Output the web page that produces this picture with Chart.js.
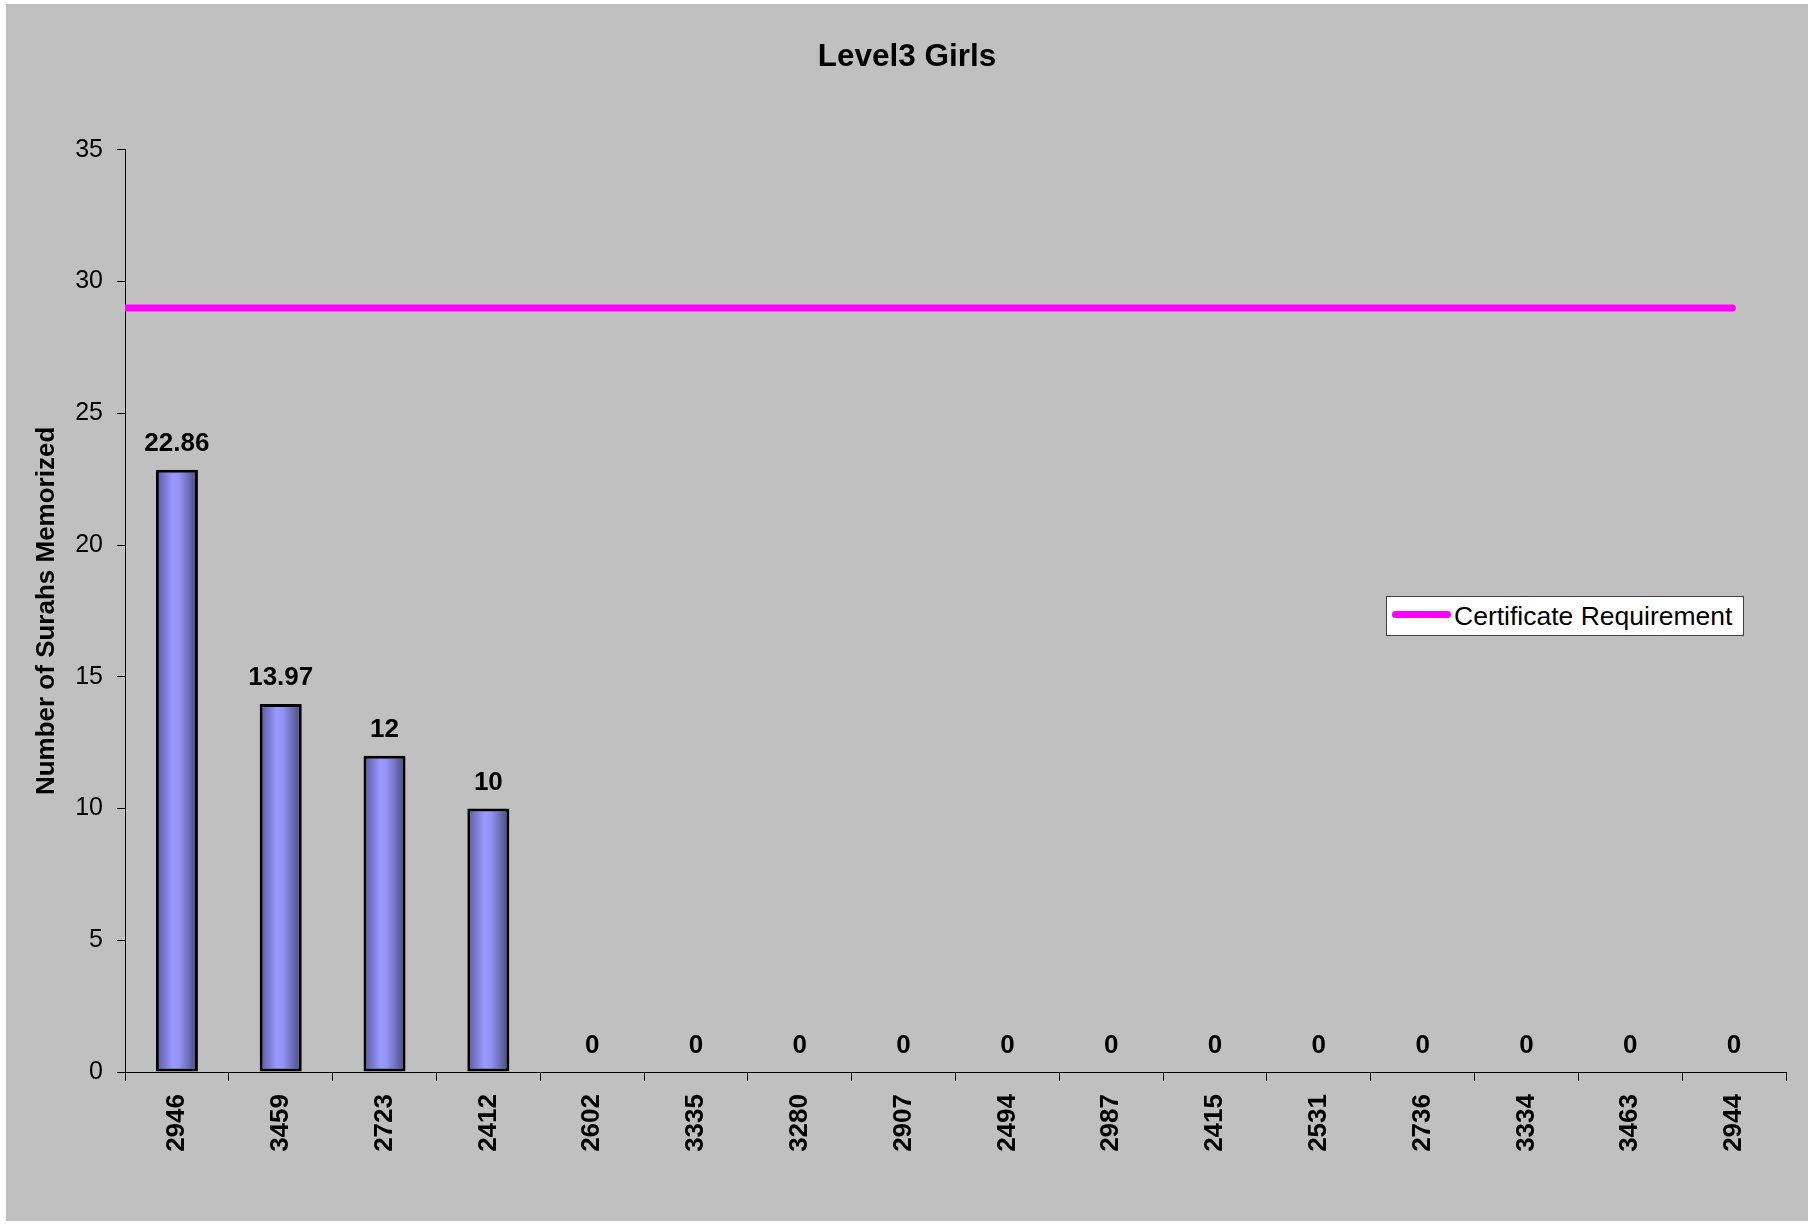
<!DOCTYPE html>
<html>
<head>
<meta charset="utf-8">
<script src="https://cdn.jsdelivr.net/npm/chart.js@4/dist/chart.umd.min.js"></script>
<style>
  body { margin: 0; background: #fff; width: 1815px; height: 1225px; position: relative; overflow: hidden; }
  #panel { position: absolute; left: 6px; top: 4px; width: 1802px; height: 1217px; background: #c0c0c0; }
  #wrap { position: absolute; left: 0; top: 0; width: 1784px; height: 1217px; }
  #legend {
    position: absolute; left: 1386px; top: 596px; width: 356px; height: 38px;
    background: #fff; border: 1px solid #404040;
    display: flex; align-items: center;
    font-family: "Liberation Sans", Arial, sans-serif; font-size: 26.5px; color: #000;
  }
  #legend .swatch { width: 59px; height: 7px; border-radius: 3.5px; margin-left: 5px; margin-right: 3px; position: relative; top: -2px; }
</style>
</head>
<body>
<div id="panel">
  <div id="wrap"><canvas id="chart"></canvas></div>
</div>
<div id="legend"></div>
<script>
// student ids along the x axis
const students = ['2946', '3459', '2723', '2412', '2602', '3335', '3280', '2907',
                  '2494', '2987', '2415', '2531', '2736', '3334', '3463', '2944'];

// surahs memorized per student
const memorized = [22.86, 13.97, 12, 10, 0, 0, 0, 0, 0, 0, 0, 0, 0, 0, 0, 0];

// certificate requirement line
const requirement = [29, 29, 29, 29, 29, 29, 29, 29, 29, 29, 29, 29, 29, 29, 29, 29];

const yTicks = [0, 5, 10, 15, 20, 25, 30, 35];

const FONT = '"Liberation Sans", Arial, sans-serif';
const BAR_PCT = 0.405;

// horizontal shaded fill for every bar, like the old Excel gradient
function barFill(c) {
  const chart = c.chart;
  const xs = chart.scales.x;
  if (!xs || !chart.chartArea) return '#9999ff';
  const cx = xs.getPixelForValue(c.dataIndex);
  const w = (xs.width / students.length) * BAR_PCT;
  const g = chart.ctx.createLinearGradient(cx - w / 2, 0, cx + w / 2, 0);
  g.addColorStop(0, '#5656a0');
  g.addColorStop(0.4, '#9999ff');
  g.addColorStop(0.55, '#9494f6');
  g.addColorStop(1, '#46467c');
  return g;
}

// value labels above the bars
const valueLabels = {
  id: 'valueLabels',
  afterDatasetsDraw(chart) {
    const ctx = chart.ctx;
    const meta = chart.getDatasetMeta(0);
    ctx.save();
    ctx.font = 'bold 26px ' + FONT;
    ctx.fillStyle = '#000';
    ctx.textAlign = 'center';
    ctx.textBaseline = 'middle';
    meta.data.forEach((bar, i) => {
      ctx.fillText(String(memorized[i]), bar.x, bar.y - 26);
    });
    ctx.restore();
  }
};

const chart = new Chart(document.getElementById('chart'), {
  type: 'bar',
  data: {
    labels: students,
    datasets: [{
      label: 'Surahs Memorized',
      data: memorized,
      backgroundColor: barFill,
      borderColor: '#000',
      borderWidth: 3,
      borderSkipped: false,
      grouped: false,
      barPercentage: BAR_PCT,
      categoryPercentage: 1
    }, {
      type: 'line',
      label: 'Certificate Requirement',
      xAxisID: 'xr',
      data: requirement.map((v, i) => ({ x: i, y: v })),
      borderColor: '#ff00ff',
      backgroundColor: '#ff00ff',
      borderWidth: 7,
      borderCapStyle: 'round',
      pointRadius: 0,
      fill: false
    }]
  },
  options: {
    responsive: true,
    maintainAspectRatio: false,
    animation: false,
    layout: { padding: { left: 22, right: 4, top: 0, bottom: 0 } },
    plugins: {
      legend: { display: false },
      tooltip: { enabled: false },
      title: {
        display: true,
        text: 'Level3 Girls',
        color: '#000',
        font: { family: FONT, size: 31.5, weight: 'bold', lineHeight: 1.2 },
        padding: { top: 34, bottom: 74 }
      }
    },
    scales: {
      x: {
        offset: true,
        grid: { offset: true, drawOnChartArea: false, drawTicks: true, tickLength: 9, color: '#000' },
        border: { display: true, color: '#000', width: 1 },
        ticks: {
          autoSkip: false, minRotation: 90, maxRotation: 90, padding: 13,
          color: '#000', font: { family: FONT, size: 26, weight: 'bold' }
        },
        afterFit(s) { s.height = 149; }
      },
      xr: {
        type: 'linear',
        display: false,
        offset: false,
        grid: { offset: false },
        min: 0,
        max: 15.5
      },
      y: {
        min: 0,
        max: 35,
        afterBuildTicks(s) { s.ticks = yTicks.map(v => ({ value: v })); },
        grid: { drawOnChartArea: false, drawTicks: true, tickLength: 8, color: '#000' },
        border: { display: true, color: '#000', width: 1 },
        ticks: { padding: 14, color: '#000', font: { family: FONT, size: 25 } },
        title: {
          display: true,
          text: 'Number of Surahs Memorized',
          color: '#000',
          font: { family: FONT, size: 26, weight: 'bold', lineHeight: 1.2 },
          padding: { top: 3, bottom: 0 }
        },
        afterFit(s) { s.width = 97; }
      }
    }
  },
  plugins: [valueLabels]
});

// html legend built from the requirement dataset
const reqSet = chart.data.datasets[1];
const legendEl = document.getElementById('legend');
const sw = document.createElement('span');
sw.className = 'swatch';
sw.style.background = reqSet.borderColor;
const txt = document.createElement('span');
txt.textContent = reqSet.label;
legendEl.append(sw, txt);
</script>
</body>
</html>
